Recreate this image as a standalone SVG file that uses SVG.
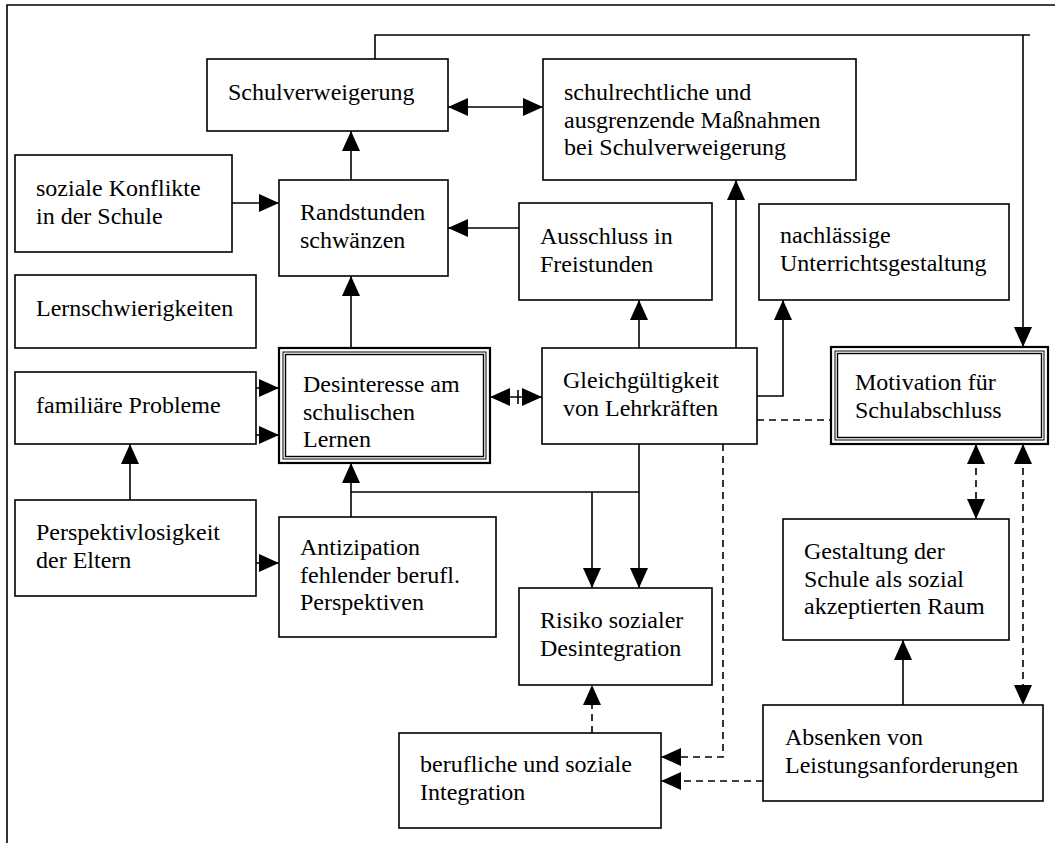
<svg xmlns="http://www.w3.org/2000/svg" width="1055" height="843" viewBox="0 0 1055 843">
<defs>
<style>
.box{fill:#fff;stroke:#000;stroke-width:1.6}
.t{font-family:"Liberation Serif","Times New Roman",serif;font-size:24px;fill:#000}
.c{fill:none;stroke:#000;stroke-width:1.6}
.d{fill:none;stroke:#000;stroke-width:1.6;stroke-dasharray:7,5}
</style>
<marker id="ah" viewBox="0 0 20 18" refX="20" refY="9" markerWidth="20" markerHeight="18" markerUnits="userSpaceOnUse" orient="auto-start-reverse">
<path d="M0,0 L20,9 L0,18 Z" fill="#000"/>
</marker>
</defs>
<rect x="0" y="0" width="1055" height="843" fill="#fff"/>
<path d="M7,843 L7,5 L1055,5" fill="none" stroke="#000" stroke-width="1.6"/>

<g id="connectors">
<path class="c" d="M375,59 L375,35 L1030,35"/>
<path class="c" d="M1023,35 L1023,347" marker-end="url(#ah)"/>
<path class="c" d="M448,107 L543,107" marker-start="url(#ah)" marker-end="url(#ah)"/>
<path class="c" d="M232,203 L279,203" marker-end="url(#ah)"/>
<path class="c" d="M351,180 L351,131" marker-end="url(#ah)"/>
<path class="c" d="M519,228 L448,228" marker-end="url(#ah)"/>
<path class="c" d="M351,348 L351,276" marker-end="url(#ah)"/>
<path class="c" d="M639,348 L639,300" marker-end="url(#ah)"/>
<path class="c" d="M736,348 L736,180" marker-end="url(#ah)"/>
<path class="c" d="M757,396 L783,396 L783,300" marker-end="url(#ah)"/>
<path class="c" d="M256,388 L279,388" marker-end="url(#ah)"/>
<path class="c" d="M256,435 L279,435" marker-end="url(#ah)"/>
<path class="c" d="M130,500 L130,444" marker-end="url(#ah)"/>
<path class="c" d="M256,563 L279,563" marker-end="url(#ah)"/>
<path class="c" d="M490,397 L542,397" marker-start="url(#ah)" marker-end="url(#ah)"/>
<path class="c" d="M518,390 L518,404"/>
<path class="c" d="M351,517 L351,463" marker-end="url(#ah)"/>
<path class="c" d="M351,492 L639,492"/>
<path class="c" d="M639,444 L639,588" marker-end="url(#ah)"/>
<path class="c" d="M592,492 L592,588" marker-end="url(#ah)"/>
<path class="d" d="M757,420 L831,420"/>
<path class="d" d="M976,444 L976,519" marker-start="url(#ah)" marker-end="url(#ah)"/>
<path class="d" d="M1023,444 L1023,705" marker-start="url(#ah)" marker-end="url(#ah)"/>
<path class="c" d="M903,705 L903,640" marker-end="url(#ah)"/>
<path class="d" d="M763,781 L661,781" marker-end="url(#ah)"/>
<path class="d" d="M723,444 L723,757 L661,757" marker-end="url(#ah)"/>
<path class="d" d="M592,733 L592,685" marker-end="url(#ah)"/>
</g>

<g id="n-schulverweigerung">
<rect class="box" x="207" y="59" width="241" height="72"/>
<text class="t" x="228" y="100">Schulverweigerung</text>
</g>
<g id="n-schulrechtliche">
<rect class="box" x="543" y="59" width="313" height="121"/>
<text class="t" x="564" y="100">schulrechtliche und</text>
<text class="t" x="564" y="127.6">ausgrenzende Maßnahmen</text>
<text class="t" x="564" y="155.2">bei Schulverweigerung</text>
</g>
<g id="n-soziale">
<rect class="box" x="15" y="155" width="217" height="97"/>
<text class="t" x="36" y="196">soziale Konflikte</text>
<text class="t" x="36" y="223.6">in der Schule</text>
</g>
<g id="n-randstunden">
<rect class="box" x="279" y="180" width="169" height="96"/>
<text class="t" x="300" y="220">Randstunden</text>
<text class="t" x="300" y="247.6">schwänzen</text>
</g>
<g id="n-ausschluss">
<rect class="box" x="519" y="203" width="193" height="97"/>
<text class="t" x="540" y="244">Ausschluss in</text>
<text class="t" x="540" y="271.6">Freistunden</text>
</g>
<g id="n-nachlaessige">
<rect class="box" x="759" y="204" width="250" height="96"/>
<text class="t" x="780" y="243">nachlässige</text>
<text class="t" x="780" y="270.6">Unterrichtsgestaltung</text>
</g>
<g id="n-lernschwierigkeiten">
<rect class="box" x="15" y="275" width="241" height="73"/>
<text class="t" x="36" y="316">Lernschwierigkeiten</text>
</g>
<g id="n-familiaere">
<rect class="box" x="15" y="372" width="241" height="72"/>
<text class="t" x="36" y="413">familiäre Probleme</text>
</g>
<g id="n-desinteresse">
<rect x="279" y="348" width="211" height="115" fill="#fff" stroke="#000" stroke-width="2.2"/>
<rect x="283" y="352" width="203" height="107" fill="none" stroke="#000" stroke-width="1"/>
<rect x="285.5" y="354.5" width="198" height="102" fill="none" stroke="#000" stroke-width="1.4"/>
<text class="t" x="303" y="392">Desinteresse am</text>
<text class="t" x="303" y="419.6">schulischen</text>
<text class="t" x="303" y="447.2">Lernen</text>
</g>
<g id="n-gleichgueltigkeit">
<rect class="box" x="542" y="348" width="215" height="96"/>
<text class="t" x="563" y="388">Gleichgültigkeit</text>
<text class="t" x="563" y="415.6">von Lehrkräften</text>
</g>
<g id="n-motivation">
<rect x="831" y="347" width="217" height="97" fill="#fff" stroke="#000" stroke-width="2.2"/>
<rect x="835" y="351" width="209" height="89" fill="none" stroke="#000" stroke-width="1"/>
<rect x="837.5" y="353.5" width="204" height="84" fill="none" stroke="#000" stroke-width="1.4"/>
<text class="t" x="855" y="390">Motivation für</text>
<text class="t" x="855" y="417.6">Schulabschluss</text>
</g>
<g id="n-perspektivlosigkeit">
<rect class="box" x="15" y="500" width="241" height="96"/>
<text class="t" x="36" y="540">Perspektivlosigkeit</text>
<text class="t" x="36" y="567.6">der Eltern</text>
</g>
<g id="n-antizipation">
<rect class="box" x="279" y="517" width="217" height="120"/>
<text class="t" x="300" y="555">Antizipation</text>
<text class="t" x="300" y="582.6">fehlender berufl.</text>
<text class="t" x="300" y="610.2">Perspektiven</text>
</g>
<g id="n-gestaltung">
<rect class="box" x="783" y="519" width="226" height="121"/>
<text class="t" x="804" y="559">Gestaltung der</text>
<text class="t" x="804" y="586.6">Schule als sozial</text>
<text class="t" x="804" y="614.2">akzeptierten Raum</text>
</g>
<g id="n-risiko">
<rect class="box" x="519" y="588" width="193" height="97"/>
<text class="t" x="540" y="628">Risiko sozialer</text>
<text class="t" x="540" y="655.6">Desintegration</text>
</g>
<g id="n-absenken">
<rect class="box" x="763" y="705" width="280" height="96"/>
<text class="t" x="785" y="745">Absenken von</text>
<text class="t" x="785" y="772.6">Leistungsanforderungen</text>
</g>
<g id="n-berufliche">
<rect class="box" x="399" y="733" width="262" height="95"/>
<text class="t" x="420" y="772">berufliche und soziale</text>
<text class="t" x="420" y="799.6">Integration</text>
</g>
</svg>
